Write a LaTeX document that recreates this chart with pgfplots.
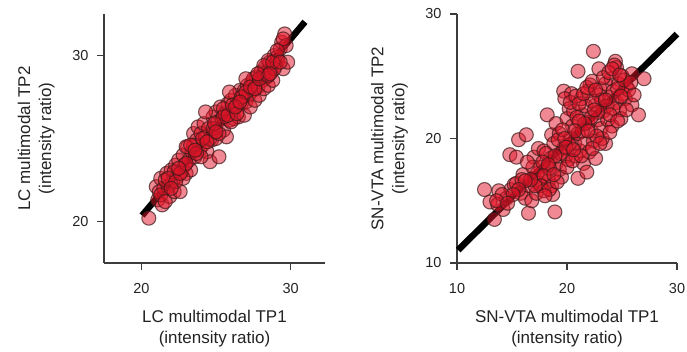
\documentclass[border=0pt]{standalone}
\usepackage{fontspec}
\setmainfont{Liberation Sans}
\usepackage{pgfplots}
\pgfplotsset{compat=1.18}
\definecolor{mred}{RGB}{225,20,40}
\definecolor{medge}{RGB}{60,25,25}
\definecolor{axgray}{RGB}{60,60,60}
\definecolor{txt}{RGB}{35,35,35}
\begin{document}
\begin{tikzpicture}
\path[use as bounding box] (0,0) rectangle (687pt,352pt);
\pgfplotsset{
  myax/.style={
    scale only axis,
    axis x line*=bottom, axis y line*=left,
    axis line style={line width=1.2pt, axgray},
    tick style={line width=1.2pt, axgray},
    tick align=outside, major tick length=7pt,
    ticklabel style={font=\fontsize{14.5}{17}\selectfont, text=txt},
    xticklabel style={yshift=-10pt},
    yticklabel style={xshift=-5pt},
    label style={font=\fontsize{17}{21}\selectfont, text=txt, align=center},
    /pgf/number format/assume math mode=true,
    anchor=south west, clip=false,
    xlabel style={at={(axis description cs:0.5,-0.187)}, anchor=north, inner sep=0pt},
    ylabel style={at={(axis description cs:-0.222,0.5)}, anchor=south, inner sep=0pt, rotate=0},
  },
  dots/.style={only marks, mark=*, mark size=7pt,
    mark options={fill=mred, fill opacity=0.5, draw=medge, draw opacity=0.7, line width=1.1pt}},
  fit/.style={no marks, black, line width=6.5pt},
}
% Left panel: LC
\begin{axis}[myax, at={(104pt,89pt)}, width=221pt, height=249pt,
  xmin=17.5, xmax=32.3, ymin=17.5, ymax=32.5,
  xtick={20,30}, ytick={20,30},
  xlabel={LC multimodal TP1\\(intensity ratio)},
  ylabel={LC multimodal TP2\\(intensity ratio)}]
\addplot[dots] coordinates {
(20.5,20.2)(21.0,22.1)(21.1,21.3)(21.2,21.8)(21.3,22.6)(21.4,21.0)(21.5,22.0)
(21.7,22.9)(21.8,22.1)(21.9,21.5)(22.0,23.1)(22.1,22.4)(22.2,21.8)(22.3,23.4)(22.4,22.7)(22.6,21.8)(22.5,23.7)
(22.7,23.0)(22.8,24.0)(22.9,23.4)(23.0,22.9)(23.1,24.5)(23.2,23.7)(23.3,23.1)(23.4,24.2)(23.5,25.3)(23.6,23.9)
(23.7,24.9)(23.8,25.7)(23.9,24.3)(24.0,25.3)(24.1,24.6)(24.2,25.9)(24.3,25.1)(24.4,24.2)(24.6,23.6)(24.5,25.6)(24.7,24.9)(24.8,26.3)
(24.9,25.5)(25.0,26.6)(25.1,26.0)(25.2,23.9)(25.3,26.9)(25.4,26.2)(25.5,25.5)(25.6,26.5)(25.7,25.1)(25.8,27.1)
(25.9,26.1)(26.0,27.3)(26.1,26.7)(26.2,26.2)(26.3,27.6)(26.4,27.0)(26.5,26.3)(26.6,27.9)(26.7,27.1)(26.9,26.4)
(26.9,27.9)(27.0,27.2)(27.1,28.2)(27.2,27.6)(27.3,26.9)(27.4,28.4)(27.5,27.9)(27.6,27.3)(27.7,28.7)(27.8,28.1)
(27.9,27.6)(28.0,29.0)(28.1,28.5)(28.2,28.0)(28.3,29.3)(28.4,28.7)(28.5,28.2)(28.6,29.6)(28.7,29.0)(28.8,28.5)
(28.9,30.0)(29.0,29.4)(29.1,29.9)(29.15,29.7)(29.3,30.4)(29.4,30.8)(29.5,29.2)(29.6,31.3)(29.7,30.6)(29.8,29.6)(29.5,31.0)
(21.6,22.5)(22.8,22.6)(23.5,24.6)(24.0,23.9)(24.6,25.0)(25.0,25.0)(25.5,26.8)(26.0,26.0)(26.8,27.5)(27.5,28.6)(28.2,28.9)(28.9,29.2)
(24.3,26.6)(25.9,27.8)(23.0,24.5)(22.2,23.0)(27.0,28.6)(28.5,29.7)
(21.3,21.6)(21.8,22.6)(22.3,22.4)(22.6,22.9)(23.0,23.5)(23.3,24.6)(23.7,24.1)(24.1,25.0)(24.4,24.8)(24.8,25.6)
(25.2,25.3)(25.5,26.3)(25.8,26.4)(26.1,27.0)(26.4,26.5)(26.7,27.5)(27.0,27.8)(27.3,28.1)(27.6,28.0)(27.9,28.6)
(28.2,29.4)(28.5,28.8)(28.8,29.6)(29.1,30.3)(29.3,29.6)(21.6,21.2)(22.0,22.0)(23.6,24.3)(24.9,25.9)(26.3,26.9)
(27.8,28.9)(28.6,28.9)(22.5,23.2)(25.0,25.4)(26.6,27.2)
};
\addplot[fit] coordinates {(20.05,20.36)(30.96,32.03)};
\end{axis}
% Right panel: SN-VTA
\begin{axis}[myax, at={(457pt,89pt)}, width=220pt, height=249pt,
  xmin=10, xmax=30, ymin=10, ymax=30,
  xtick={10,20,30}, ytick={10,20,30},
  xlabel={SN-VTA multimodal TP1\\(intensity ratio)},
  ylabel={SN-VTA multimodal TP2\\(intensity ratio)}]
\addplot[dots] coordinates {
(12.5,15.9)(13.0,14.9)(13.4,13.5)(13.8,15.8)(14.2,14.3)(13.7,14.7)(14.5,15.2)(14.9,15.9)(15.2,16.3)(14.8,18.7)
(15.4,18.5)(15.6,19.9)(16.3,20.3)(15.4,16.4)(16.0,17.1)(15.8,15.6)(16.2,15.2)(16.5,14.0)(16.8,15.0)(16.6,16.2)
(17.0,16.8)(17.2,15.6)(17.5,16.4)(17.0,18.5)(17.6,17.7)(17.4,19.2)(17.9,19.0)(18.0,17.2)(18.3,16.6)(18.6,16.2)
(18.9,14.1)(18.2,21.9)(18.6,20.3)(18.5,18.4)(18.8,19.6)(19.0,18.0)(19.3,17.5)(19.0,21.2)(19.3,20.4)(19.7,19.2)
(19.9,18.6)(20.1,18.3)(19.5,16.9)(20.0,17.7)(19.7,23.8)(20.4,23.6)(19.8,23.2)(20.2,22.4)(20.0,21.6)(20.5,21.0)
(20.3,20.0)(20.7,19.6)(21.0,20.4)(21.0,16.8)(21.5,18.0)(21.8,17.3)(21.2,19.0)(21.6,19.6)(21.4,21.9)(21.7,22.6)
(21.0,25.4)(21.3,23.2)(22.1,24.3)(21.9,21.3)(22.2,20.6)(22.4,19.8)(22.0,18.9)(22.6,18.4)(22.4,27.0)(22.6,22.7)
(22.9,23.5)(23.0,24.0)(23.15,23.1)(22.8,21.5)(23.1,20.8)(23.5,19.6)(23.3,22.2)(23.7,21.5)(23.9,23.3)(23.5,24.4)
(24.0,24.8)(24.4,26.2)(24.5,25.7)(24.3,25.9)(24.2,23.8)(24.5,22.9)(24.8,22.3)(24.1,21.0)(24.7,24.4)(25.1,23.6)
(25.3,23.2)(25.0,25.0)(25.4,24.2)(25.9,25.2)(25.9,22.7)(26.5,21.9)(27.0,24.8)(25.6,23.9)(26.1,23.5)(24.9,21.6)
(23.2,20.0)(22.7,20.2)(19.2,19.9)(18.1,18.8)(17.3,17.2)(16.9,17.7)(16.4,18.1)(15.9,16.7)(14.1,15.5)(13.6,15.0)
(20.6,22.2)(21.9,23.8)(22.3,23.0)(20.8,18.6)(19.6,20.7)(18.4,17.6)(17.8,18.1)(18.7,15.5)(20.9,21.7)(22.9,25.6)
(24.6,24.0)(25.2,24.7)(23.6,22.6)(21.4,20.6)
(20.3,22.9)(20.8,23.4)(21.1,22.8)(21.5,23.6)(21.8,24.1)(22.3,24.6)(22.6,23.9)(23.3,24.9)(23.8,25.3)(24.1,25.6)
(24.8,25.1)(24.2,22.4)(23.9,21.9)(22.8,22.1)(22.2,21.7)(21.6,21.2)(21.1,21.4)(20.7,20.6)(20.2,19.5)(19.8,20.0)
(19.4,18.8)(18.9,18.6)(18.3,17.9)(17.9,17.0)(17.6,16.2)(17.9,15.8)(18.4,15.9)(17.1,16.2)(16.7,16.7)(16.2,16.6)
(15.6,15.9)(15.1,15.5)(14.6,14.8)(18.0,15.4)(19.1,16.5)(20.5,18.2)(21.3,18.6)(22.3,19.2)(23.0,19.6)(23.9,20.5)
(24.6,21.4)(25.4,22.3)(25.8,24.5)(24.9,23.4)(23.5,23.1)(22.5,22.3)(21.9,20.6)(19.9,19.3)(18.8,17.1)(20.6,19.1)
};
\addplot[fit] coordinates {(10.1,11.04)(30,28.39)};
\end{axis}
\end{tikzpicture}
\end{document}
